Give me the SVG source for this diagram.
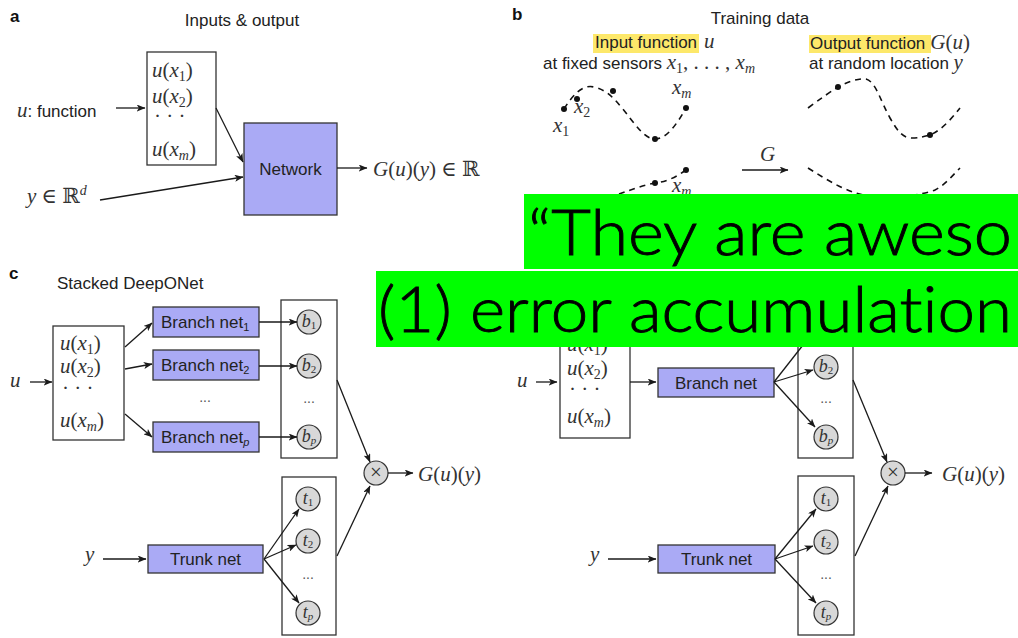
<svg xmlns="http://www.w3.org/2000/svg" width="1018" height="638" viewBox="0 0 1018 638">
  <defs>
    <marker id="ah" viewBox="0 0 10 8" refX="9.5" refY="4" markerWidth="9" markerHeight="7" orient="auto" markerUnits="userSpaceOnUse">
      <path d="M0,0 L10,4 L0,8 L2.5,4 z" fill="#1a1a1a"/>
    </marker>
    <style>
      .sans{font-family:"Liberation Sans",Arial,sans-serif;font-size:17px;fill:#222}
      .lbl{font-family:"Liberation Sans",Arial,sans-serif;font-size:17px;font-weight:bold;fill:#111}
      .m{font-family:"Liberation Serif","DejaVu Serif",serif;font-size:21px;fill:#333}
      .mc{font-family:"Liberation Serif","DejaVu Serif",serif;font-size:18px;fill:#333}
      .i{font-style:italic}
      .sub{font-size:14px}
      .csub{font-size:11px}
      .box{fill:#fff;stroke:#333;stroke-width:1.3}
      .net{fill:#aaaaf5;stroke:#333;stroke-width:1.3}
      .node{fill:#d8d8d8;stroke:#333;stroke-width:1.2}
      .ar{stroke:#1a1a1a;stroke-width:1.3;fill:none;marker-end:url(#ah)}
      .dash{stroke:#111;stroke-width:1.6;fill:none;stroke-dasharray:6 5}
      .dot{fill:#111}
      .hl{fill:#fde86a}
      .green{fill:#00ff00}
      .big{font-family:"Lato","Open Sans","Liberation Sans",sans-serif;font-weight:300;font-size:64px;fill:#000;stroke:#000;stroke-width:0.9;font-variant-ligatures:none}
      .dots{font-family:"Liberation Sans",Arial,sans-serif;font-size:14px;fill:#555}
    </style>
  </defs>

  <!-- ===== panel a : inputs & output ===== -->
  <g id="panel-a">
    <text class="lbl" x="10" y="22">a</text>
    <text class="sans" x="242" y="26" text-anchor="middle">Inputs &amp; output</text>
    <g id="a-inputs">
      <rect class="box" x="147" y="52" width="69" height="113"/>
      <text class="m" x="152" y="77"><tspan class="i">u</tspan>(<tspan class="i">x</tspan><tspan class="sub" dy="4">1</tspan><tspan dy="-4">)</tspan></text>
      <text class="m" x="152" y="103"><tspan class="i">u</tspan>(<tspan class="i">x</tspan><tspan class="sub" dy="4">2</tspan><tspan dy="-4">)</tspan></text>
      <text class="m" x="154" y="123">· · ·</text>
      <text class="m" x="152" y="156"><tspan class="i">u</tspan>(<tspan class="i">x</tspan><tspan class="sub i" dy="4">m</tspan><tspan dy="-4">)</tspan></text>
    </g>
    <text id="a-u" x="17" y="117"><tspan class="m i">u</tspan><tspan class="sans">: function</tspan></text>
    <text id="a-y" class="m" x="27" y="203"><tspan class="i">y</tspan> ∈ ℝ<tspan class="sub i" dy="-8">d</tspan></text>
    <g id="a-network">
      <rect class="net" x="244" y="123" width="93" height="92"/>
      <text class="sans" x="290.5" y="175" text-anchor="middle">Network</text>
    </g>
    <text id="a-out" class="m" x="373" y="176"><tspan class="i">G</tspan>(<tspan class="i">u</tspan>)(<tspan class="i">y</tspan>) ∈ ℝ</text>
  </g>

  <!-- ===== panel b : training data ===== -->
  <g id="panel-b">
    <text class="lbl" x="512" y="20">b</text>
    <text class="sans" x="760" y="24" text-anchor="middle">Training data</text>
    <rect class="hl" x="593" y="34" width="106" height="19"/>
    <text x="595" y="48"><tspan class="sans">Input function</tspan><tspan class="m i" dx="7">u</tspan></text>
    <text x="543" y="69"><tspan class="sans">at fixed sensors </tspan><tspan class="m i">x</tspan><tspan class="m sub" dy="4">1</tspan><tspan class="m" dy="-4">, . . . , </tspan><tspan class="m i">x</tspan><tspan class="m sub i" dy="4">m</tspan></text>
    <rect class="hl" x="809" y="35" width="122" height="18"/>
    <text x="810" y="49"><tspan class="sans">Output function</tspan><tspan class="m" dx="5"><tspan class="i">G</tspan>(<tspan class="i">u</tspan>)</tspan></text>
    <text x="809" y="69"><tspan class="sans">at random location </tspan><tspan class="m i">y</tspan></text>

    <!-- input functions sampled at sensors -->
    <path class="dash" d="M564,109 C572,96 582,84 594,87 C606,90 612,96 622,108 C635,124 645,140 656,139 C668,138 678,122 686,108"/>
    <circle class="dot" cx="564" cy="109" r="3"/>
    <circle class="dot" cx="577" cy="99" r="3"/>
    <circle class="dot" cx="613" cy="91" r="3"/>
    <circle class="dot" cx="655" cy="139" r="3"/>
    <circle class="dot" cx="686" cy="108" r="3"/>
    <text class="m" x="574" y="113"><tspan class="i">x</tspan><tspan class="sub" dy="4">2</tspan></text>
    <text class="m" x="553" y="132"><tspan class="i">x</tspan><tspan class="sub" dy="4">1</tspan></text>
    <text class="m" x="672" y="94"><tspan class="i">x</tspan><tspan class="sub i" dy="4">m</tspan></text>
    <path class="dash" d="M686,170 C675,178 665,182 655,183 C640,186 625,192 608,198"/>
    <circle class="dot" cx="686" cy="170" r="3"/>
    <circle class="dot" cx="655" cy="183" r="3"/>
    <text class="m" x="672" y="192"><tspan class="i">x</tspan><tspan class="sub i" dy="4">m</tspan></text>

    <!-- operator arrow label -->
    <text class="m i" x="760" y="161">G</text>

    <!-- output functions sampled at random locations -->
    <path class="dash" d="M808,108 C820,99 830,92 838,87 C848,82 858,78 866,79 C876,82 880,100 890,118 C898,132 903,138 912,138 C920,138 926,136 930,135 C942,130 952,118 960,108"/>
    <circle class="dot" cx="838" cy="87" r="3"/>
    <circle class="dot" cx="930" cy="135" r="3"/>
    <path class="dash" d="M808,168 C830,182 850,194 870,196 C890,198 920,196 935,190 C945,185 952,176 960,168"/>
  </g>

  <!-- ===== panel c : stacked DeepONet ===== -->
  <g id="panel-c">
    <text class="lbl" x="9" y="279">c</text>
    <text class="sans" x="57" y="289">Stacked DeepONet</text>
    <text class="m i" x="10" y="387">u</text>
    <g id="c-inputs">
      <rect class="box" x="53" y="326" width="71" height="114"/>
      <text class="m" x="60" y="350"><tspan class="i">u</tspan>(<tspan class="i">x</tspan><tspan class="sub" dy="4">1</tspan><tspan dy="-4">)</tspan></text>
      <text class="m" x="60" y="373"><tspan class="i">u</tspan>(<tspan class="i">x</tspan><tspan class="sub" dy="4">2</tspan><tspan dy="-4">)</tspan></text>
      <text class="m" x="62" y="395">· · ·</text>
      <text class="m" x="60" y="427"><tspan class="i">u</tspan>(<tspan class="i">x</tspan><tspan class="sub i" dy="4">m</tspan><tspan dy="-4">)</tspan></text>
    </g>
    <g id="c-branch1"><rect class="net" x="153" y="307" width="106" height="30"/><text class="sans" x="161" y="328">Branch net<tspan class="csub" dy="3">1</tspan></text></g>
    <g id="c-branch2"><rect class="net" x="153" y="350" width="106" height="30"/><text class="sans" x="161" y="371">Branch net<tspan class="csub" dy="3">2</tspan></text></g>
    <text class="dots" x="205" y="402" text-anchor="middle">...</text>
    <g id="c-branchp"><rect class="net" x="153" y="422" width="106" height="30"/><text class="sans" x="161" y="443">Branch net<tspan class="csub i" dy="3">p</tspan></text></g>
    <g id="c-bcol">
      <rect class="box" x="281" y="300" width="56" height="158"/>
      <circle class="node" cx="309" cy="322" r="12"/><text class="mc" x="309" y="327" text-anchor="middle"><tspan class="i">b</tspan><tspan class="csub" dy="2">1</tspan></text>
      <circle class="node" cx="309" cy="366" r="12"/><text class="mc" x="309" y="371" text-anchor="middle"><tspan class="i">b</tspan><tspan class="csub" dy="2">2</tspan></text>
      <text class="dots" x="309" y="403" text-anchor="middle">...</text>
      <circle class="node" cx="309" cy="437" r="12"/><text class="mc" x="309" y="442" text-anchor="middle"><tspan class="i">b</tspan><tspan class="csub i" dy="2">p</tspan></text>
    </g>
    <g id="c-trunk"><rect class="net" x="148" y="545" width="115" height="28"/><text class="sans" x="205.5" y="565" text-anchor="middle">Trunk net</text></g>
    <text class="m i" x="85" y="561">y</text>
    <g id="c-tcol">
      <rect class="box" x="282" y="477" width="54" height="158"/>
      <circle class="node" cx="308" cy="499" r="12"/><text class="mc" x="308" y="504" text-anchor="middle"><tspan class="i">t</tspan><tspan class="csub" dy="2">1</tspan></text>
      <circle class="node" cx="308" cy="541" r="12"/><text class="mc" x="308" y="546" text-anchor="middle"><tspan class="i">t</tspan><tspan class="csub" dy="2">2</tspan></text>
      <text class="dots" x="308" y="579" text-anchor="middle">...</text>
      <circle class="node" cx="308" cy="613" r="12"/><text class="mc" x="308" y="618" text-anchor="middle"><tspan class="i">t</tspan><tspan class="csub i" dy="2">p</tspan></text>
    </g>
    <g id="c-prod"><circle class="node" cx="376" cy="473" r="12"/><text class="m" x="376" y="479" text-anchor="middle">×</text></g>
    <text class="m" x="418" y="481"><tspan class="i">G</tspan>(<tspan class="i">u</tspan>)(<tspan class="i">y</tspan>)</text>
  </g>

  <!-- ===== panel d : unstacked DeepONet ===== -->
  <g id="panel-d">
    <text class="m i" x="517" y="387">u</text>
    <g id="d-inputs">
      <rect class="box" x="560" y="324" width="70" height="114"/>
      <text class="m" x="567" y="351"><tspan class="i">u</tspan>(<tspan class="i">x</tspan><tspan class="sub" dy="4">1</tspan><tspan dy="-4">)</tspan></text>
      <text class="m" x="567" y="375"><tspan class="i">u</tspan>(<tspan class="i">x</tspan><tspan class="sub" dy="4">2</tspan><tspan dy="-4">)</tspan></text>
      <text class="m" x="569" y="396">· · ·</text>
      <text class="m" x="567" y="423"><tspan class="i">u</tspan>(<tspan class="i">x</tspan><tspan class="sub i" dy="4">m</tspan><tspan dy="-4">)</tspan></text>
    </g>
    <g id="d-branch"><rect class="net" x="658" y="368" width="116" height="29"/><text class="sans" x="716" y="389" text-anchor="middle">Branch net</text></g>
    <g id="d-bcol">
      <rect class="box" x="798" y="300" width="55" height="158"/>
      <circle class="node" cx="826" cy="322" r="12"/>
      <circle class="node" cx="826" cy="367" r="12"/><text class="mc" x="826" y="372" text-anchor="middle"><tspan class="i">b</tspan><tspan class="csub" dy="2">2</tspan></text>
      <text class="dots" x="826" y="403" text-anchor="middle">...</text>
      <circle class="node" cx="826" cy="437" r="12"/><text class="mc" x="826" y="442" text-anchor="middle"><tspan class="i">b</tspan><tspan class="csub i" dy="2">p</tspan></text>
    </g>
    <g id="d-trunk"><rect class="net" x="658" y="545" width="117" height="28"/><text class="sans" x="716.5" y="565" text-anchor="middle">Trunk net</text></g>
    <text class="m i" x="590" y="561">y</text>
    <g id="d-tcol">
      <rect class="box" x="798" y="476" width="56" height="159"/>
      <circle class="node" cx="826" cy="499" r="12"/><text class="mc" x="826" y="504" text-anchor="middle"><tspan class="i">t</tspan><tspan class="csub" dy="2">1</tspan></text>
      <circle class="node" cx="826" cy="542" r="12"/><text class="mc" x="826" y="547" text-anchor="middle"><tspan class="i">t</tspan><tspan class="csub" dy="2">2</tspan></text>
      <text class="dots" x="826" y="579" text-anchor="middle">...</text>
      <circle class="node" cx="826" cy="613" r="12"/><text class="mc" x="826" y="618" text-anchor="middle"><tspan class="i">t</tspan><tspan class="csub i" dy="2">p</tspan></text>
    </g>
    <g id="d-prod"><circle class="node" cx="893" cy="473" r="12"/><text class="m" x="893" y="479" text-anchor="middle">×</text></g>
    <text class="m" x="942" y="481"><tspan class="i">G</tspan>(<tspan class="i">u</tspan>)(<tspan class="i">y</tspan>)</text>
  </g>

  <!-- ===== connectors ===== -->
  <g id="connectors">
    <!-- a -->
    <line class="ar" x1="116" y1="108" x2="145" y2="108"/>
    <line class="ar" x1="216" y1="108" x2="243" y2="162"/>
    <line class="ar" x1="100" y1="200" x2="243" y2="177"/>
    <line class="ar" x1="337" y1="168" x2="367" y2="168"/>
    <!-- b -->
    <line class="ar" x1="742" y1="170" x2="788" y2="170"/>
    <!-- c -->
    <line class="ar" x1="30" y1="382" x2="52" y2="382"/>
    <line class="ar" x1="125" y1="347" x2="152" y2="323"/>
    <line class="ar" x1="125" y1="369" x2="152" y2="364"/>
    <line class="ar" x1="125" y1="414" x2="152" y2="437"/>
    <line class="ar" x1="259" y1="322" x2="297" y2="322"/>
    <line class="ar" x1="259" y1="366" x2="297" y2="366"/>
    <line class="ar" x1="259" y1="437" x2="297" y2="437"/>
    <line class="ar" x1="337" y1="380" x2="370" y2="462"/>
    <line class="ar" x1="388" y1="473" x2="413" y2="473"/>
    <line class="ar" x1="103" y1="559" x2="146" y2="559"/>
    <line class="ar" x1="264" y1="559" x2="299" y2="509"/>
    <line class="ar" x1="264" y1="559" x2="296" y2="545"/>
    <line class="ar" x1="264" y1="559" x2="299" y2="603"/>
    <line class="ar" x1="337" y1="556" x2="370" y2="486"/>
    <!-- d -->
    <line class="ar" x1="536" y1="382" x2="557" y2="382"/>
    <line class="ar" x1="630" y1="382" x2="656" y2="382"/>
    <line class="ar" x1="774" y1="382" x2="814" y2="331"/>
    <line class="ar" x1="774" y1="382" x2="813" y2="370"/>
    <line class="ar" x1="774" y1="382" x2="815" y2="427"/>
    <line class="ar" x1="853" y1="380" x2="887" y2="462"/>
    <line class="ar" x1="905" y1="473" x2="932" y2="473"/>
    <line class="ar" x1="608" y1="559" x2="656" y2="559"/>
    <line class="ar" x1="775" y1="559" x2="816" y2="509"/>
    <line class="ar" x1="775" y1="559" x2="813" y2="546"/>
    <line class="ar" x1="775" y1="559" x2="816" y2="603"/>
    <line class="ar" x1="855" y1="556" x2="888" y2="486"/>
  </g>

  <!-- ===== caption banners ===== -->
  <g id="banner-1">
    <rect class="green" x="524" y="194" width="494" height="75"/>
    <text class="big" x="528" y="255" textLength="484" lengthAdjust="spacingAndGlyphs">“They are aweso</text>
  </g>
  <g id="banner-2">
    <rect class="green" x="376" y="271" width="642" height="76"/>
    <text class="big" x="378" y="332" textLength="634" lengthAdjust="spacingAndGlyphs">(1) error accumulation</text>
  </g>
</svg>
